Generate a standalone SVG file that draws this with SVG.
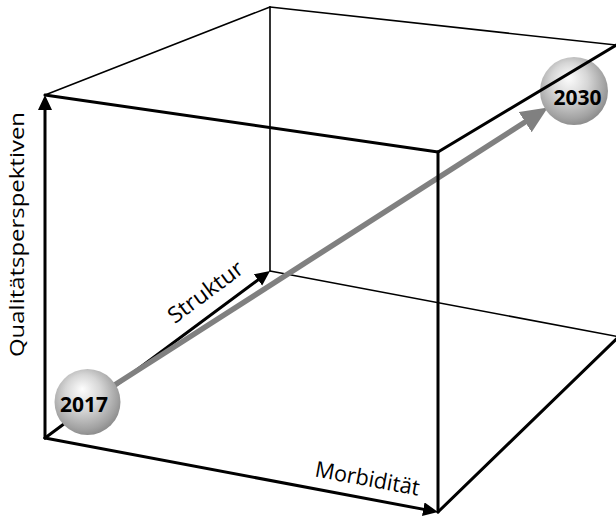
<svg xmlns="http://www.w3.org/2000/svg" width="616" height="519" viewBox="0 0 616 519">
<defs>
<style>
.thin{stroke:#000;stroke-width:1.6;fill:none;stroke-linecap:round}
.thick{stroke:#000;stroke-width:3;fill:none;stroke-linecap:round}
.axis{stroke:#000;stroke-width:3;fill:none;stroke-linecap:round;marker-end:url(#ah)}
.gray{stroke:#808080;stroke-width:5.5;fill:none;marker-end:url(#gh)}
.lbl{font-family:"Open Sans","Noto Sans","Liberation Sans",sans-serif;font-size:22px;fill:#000}
.yr{font-family:"Open Sans","Noto Sans","Liberation Sans",sans-serif;font-size:21px;font-weight:bold;fill:#000;text-anchor:middle}
.ball{fill:url(#sg)}
</style>
<marker id="ah" markerUnits="userSpaceOnUse" markerWidth="16" markerHeight="15" refX="9" refY="7" orient="auto">
<path d="M0,0 L15,7 L0,14 z" fill="#000"/>
</marker>
<marker id="gh" markerUnits="userSpaceOnUse" markerWidth="28" markerHeight="25" refX="6" refY="12" orient="auto">
<path d="M0,0 L27,12 L0,24 z" fill="#808080"/>
</marker>
<radialGradient id="sg" cx="0.45" cy="0.42" r="0.6" fx="0.42" fy="0.3">
<stop offset="0" stop-color="#fdfdfd"/>
<stop offset="0.45" stop-color="#d6d6d6"/>
<stop offset="0.85" stop-color="#a2a2a2"/>
<stop offset="1" stop-color="#8a8a8a"/>
</radialGradient>
</defs>
<g id="connectors">
<line class="thin" x1="270" y1="7" x2="620" y2="45.5"/>
<line class="thin" x1="270" y1="7" x2="270" y2="271"/>
<line class="thin" x1="270" y1="271" x2="620" y2="337"/>
<line class="thin" x1="45" y1="95" x2="270" y2="7"/>
<line class="axis" x1="45" y1="438" x2="265.2" y2="274.6"/>
<line class="axis" x1="45" y1="438" x2="45" y2="101"/>
<line class="axis" x1="45" y1="438" x2="432.1" y2="510.9"/>
<line class="thick" x1="45" y1="95" x2="438" y2="152"/>
<line class="gray" x1="88" y1="402" x2="530.2" y2="118.8"/>
</g>
<g id="node-2017">
<circle class="ball" cx="87.5" cy="402" r="33"/>
</g>
<g id="node-2030">
<circle class="ball" cx="574" cy="91" r="34"/>
</g>
<g id="front-edges">
<line class="thick" x1="438" y1="152" x2="438" y2="512"/>
<line class="thick" x1="438" y1="152" x2="620" y2="42.8"/>
<line class="thick" x1="438" y1="512" x2="620" y2="335.5"/>
</g>
<g id="labels">
<text class="yr" x="84" y="412">2017</text>
<text class="yr" x="577.5" y="105">2030</text>
<text class="lbl" x="23.5" y="234.5" text-anchor="middle" textLength="245" lengthAdjust="spacingAndGlyphs" style="font-size:20px" transform="rotate(-90 23.5 234.5)">Qualitätsperspektiven</text>
<text class="lbl" x="210" y="298" text-anchor="middle" textLength="88" lengthAdjust="spacingAndGlyphs" transform="rotate(-36.6 210 298)">Struktur</text>
<text class="lbl" x="366" y="486" text-anchor="middle" textLength="106" lengthAdjust="spacingAndGlyphs" transform="rotate(10.5 366 486)">Morbidität</text>
</g>
</svg>
